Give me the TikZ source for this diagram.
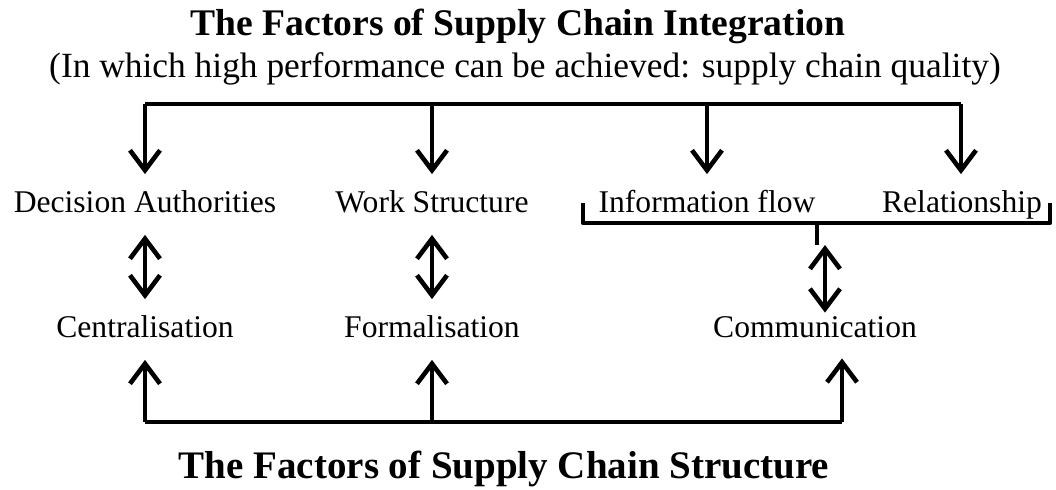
\documentclass[tikz,border=0pt]{standalone}
\usepackage{fontspec}
\setmainfont{Liberation Serif}
\usetikzlibrary{arrows.meta}
\begin{document}
\begin{tikzpicture}[x=0.5pt,y=-0.5pt,
  every node/.style={inner xsep=0pt},
  lbl/.style={font=\fontsize{15.8}{18}\selectfont, text height=11pt, text depth=3.5pt, inner ysep=7.75pt},
  ttl/.style={font=\fontsize{18.8}{22}\selectfont\bfseries, anchor=base},
  sub/.style={font=\fontsize{17.7}{20}\selectfont, anchor=base},
  ln/.style={line width=2.3pt, line join=round},
  arr/.style={ln, -{Straight Barb[length=10pt,width=15pt,line width=2.3pt]}},
  dbl/.style={ln, {Straight Barb[length=10pt,width=15pt,line width=2.3pt]}-{Straight Barb[length=10pt,width=15pt,line width=2.3pt]}}]
\useasboundingbox (0,0) rectangle (1056,489);

% headings
\node[ttl] (title) at (518,35) {The Factors of Supply Chain Integration};
\node[sub] (subtitle) at (525,77) {(In which high performance can be achieved: supply chain quality)};
\node[ttl, font=\fontsize{19.5}{22}\selectfont\bfseries] (bottom) at (504,478) {The Factors of Supply Chain Structure};

% integration factors
\node[lbl] (da) at (145,204.5) {Decision Authorities};
\node[lbl] (ws) at (432,204.5) {Work Structure};
\node[lbl] (if) at (707,204.5) {Information flow};
\node[lbl] (rel) at (962,204.5) {Relationship};

% structure factors
\node[lbl] (cen) at (145,329.5) {Centralisation};
\node[lbl] (for) at (432,329.5) {Formalisation};
\node[lbl, inner ysep=1pt] (com) at (815,329.5) {Communication};

% top distribution bar
\coordinate (tl) at (145,104);
\coordinate (tr) at (961,104);
\draw[ln] (tl) -- (tr);
\draw[arr] (tl) -- (tl |- da.north);
\draw[arr] (tl -| ws.north) -- (ws.north);
\draw[arr] (tl -| if.north) -- (if.north);
\draw[arr] (tr) -- (tr |- rel.north);

% bracket grouping information flow and relationship
\coordinate (bl) at (583,203);
\coordinate (br) at (1050,203);
\coordinate (tick) at (817,223);
\draw[ln] (bl) -- ++(0,20) -- ([yshift=20*-0.5pt]br) -- (br);
\draw[ln] (tick) -- ++(0,22) coordinate (tickend);

% two-way links
\draw[dbl] (da.south) -- (cen.north);
\draw[dbl] (ws.south) -- (for.north);
\draw[dbl] ([xshift=4pt]tickend) -- ([xshift=4pt]tickend |- com.north);

% bottom collecting bar
\coordinate (bbl) at (145,422);
\coordinate (bbr) at (842,422);
\draw[ln] (bbl) -- (bbr);
\draw[arr] (bbl) -- (bbl |- cen.south);
\draw[arr] (bbl -| for.south) -- (for.south);
\draw[arr, shorten >=6pt] (bbr) -- (bbr |- com.south);
\end{tikzpicture}
\end{document}
